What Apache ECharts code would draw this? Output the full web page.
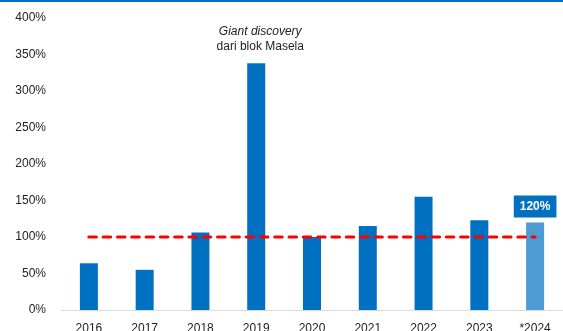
<!DOCTYPE html>
<html>
<head>
<meta charset="utf-8">
<style>
  html, body { margin: 0; padding: 0; background: #fff; }
  #topbar { position: absolute; left: 0; top: 0; width: 563px; height: 2px; background: #0070C0; }
  #chart { width: 563px; height: 331px; }
</style>
<script src="https://cdn.jsdelivr.net/npm/echarts@6/dist/echarts.min.js"></script>
</head>
<body>
<div id="chart"></div>
<div id="topbar"></div>
<script>
// Reserve replacement ratio by year (%)
const years = ['2016', '2017', '2018', '2019', '2020', '2021', '2022', '2023', '*2024'];
const ratios = [64, 55, 106, 338, 100, 115, 155, 123, 120];
const targetLine = [100, 100, 100, 100, 100, 100, 100, 100, 100];
const yTicks = [0, 50, 100, 150, 200, 250, 300, 350, 400];

const FONT = '"Liberation Sans", Arial, sans-serif';
const lastIdx = ratios.length - 1;

const barData = ratios.map((v, i) => {
  const item = { value: v };
  if (i === lastIdx) {
    item.itemStyle = { color: '#4E9BD4' };
    item.label = {
      show: true,
      position: 'top',
      distance: 5,
      formatter: '{c}%',
      color: '#fff',
      fontWeight: 'bold',
      fontSize: 12,
      fontFamily: FONT,
      backgroundColor: '#0070C0',
      padding: [5, 6, 5, 6]
    };
  }
  if (i === 3) {
    item.label = {
      show: true,
      position: 'top',
      distance: 9,
      offset: [4, 0],
      formatter: '{i|Giant discovery}\n{n|dari blok Masela}',
      rich: {
        i: { fontStyle: 'italic', fontSize: 12, fontFamily: FONT, color: '#222', lineHeight: 15 },
        n: { fontSize: 12, fontFamily: FONT, color: '#222', lineHeight: 15 }
      }
    };
  }
  return item;
});

const chart = echarts.init(document.getElementById('chart'), null, { renderer: 'canvas' });
chart.setOption({
  animation: false,
  backgroundColor: '#fff',
  grid: { left: 61, right: 0, top: 18, bottom: 21, containLabel: false, outerBoundsMode: 'none' },
  xAxis: {
    type: 'category',
    data: years,
    axisLine: { lineStyle: { color: '#D9D9D9', width: 1 } },
    axisTick: { show: false },
    axisLabel: { color: '#222', fontSize: 12, fontFamily: FONT, margin: 13 }
  },
  yAxis: {
    type: 'value',
    min: yTicks[0],
    max: yTicks[yTicks.length - 1],
    interval: yTicks[1] - yTicks[0],
    axisLine: { show: false },
    axisTick: { show: false },
    splitLine: { show: false },
    axisLabel: { formatter: '{value}%', color: '#222', fontSize: 12, fontFamily: FONT, margin: 15 }
  },
  series: [
    {
      type: 'bar',
      data: barData,
      barWidth: 18,
      itemStyle: { color: '#0070C0' },
      z: 2
    },
    {
      type: 'line',
      data: targetLine,
      symbol: 'none',
      lineStyle: { color: '#FF0000', width: 3.2, type: [7.4, 6.9], cap: 'round' },
      z: 3
    }
  ]
});
</script>
</body>
</html>
